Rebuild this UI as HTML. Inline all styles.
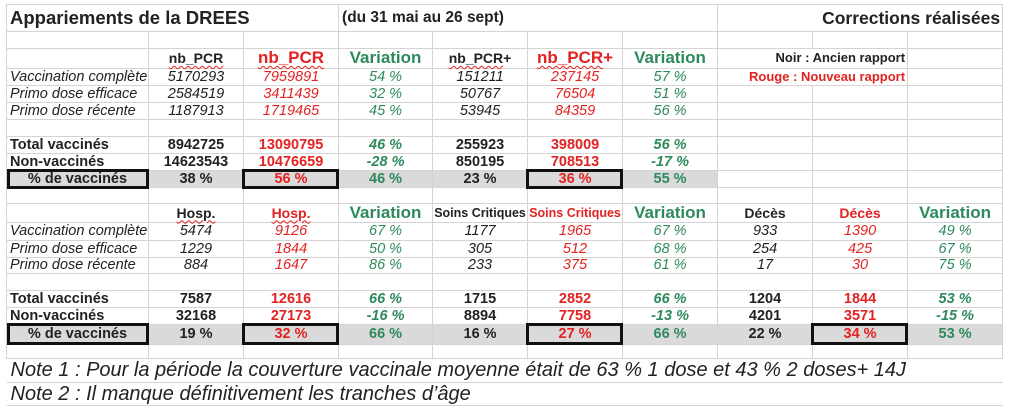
<!DOCTYPE html>
<html><head><meta charset="utf-8"><style>
body{margin:0;background:#fff;width:1022px;height:409px;overflow:hidden;position:relative;font-family:"Liberation Sans",sans-serif;}
table{position:absolute;left:6px;top:4px;border-collapse:collapse;table-layout:fixed;width:996px;}
td{border:1px solid #d4d4d4;padding:0 0 1px 0;text-align:center;font-size:14.5px;color:#222;white-space:nowrap;overflow:visible;line-height:14px;vertical-align:middle;}
td.l{text-align:left;padding-left:3px}
.i{font-style:italic}.b{font-weight:bold}
.r{color:#e32222}.g{color:#2e8a5c}
.hv{font-size:17px;font-weight:bold;color:#2e8a5c}
.hr{font-size:17px;font-weight:bold;color:#e32222}
.hb{font-size:14px;font-weight:bold}
.w{text-decoration:underline wavy #e32222 1px;text-underline-offset:2px}
.sh td{background:#dadada}
.box{position:absolute;border:3px solid #111;box-sizing:border-box;}
.note{font-size:20px;font-style:italic;text-align:left;padding-left:4px;border-left:none;border-right:none;line-height:20px}
</style></head><body>
<table>
<colgroup><col style="width:142px"><col style="width:95px"><col style="width:95px"><col style="width:94px"><col style="width:95px"><col style="width:95px"><col style="width:95px"><col style="width:95px"><col style="width:95px"><col style="width:95px"></colgroup>
<tr style="height:27px"><td colspan="3" class="l b" style="font-size:18.5px;line-height:20px">Appariements de la DREES</td><td colspan="4" class="l b" style="font-size:15.5px">(du 31 mai au 26 sept)</td><td colspan="3" class="b" style="font-size:17.5px;line-height:20px;text-align:right;padding-right:2px">Corrections réalisées</td></tr>
<tr style="height:17px"><td></td><td></td><td></td><td></td><td></td><td></td><td></td><td></td><td></td><td></td></tr>
<tr style="height:20px"><td></td><td class="hb"><span class="w">nb_PCR</span></td><td class="hr"><span class="w">nb_PCR</span></td><td class="hv">Variation</td><td class="hb"><span class="w">nb_PCR</span>+</td><td class="hr"><span class="w">nb_PCR</span>+</td><td class="hv">Variation</td><td colspan="2" class="b" style="font-size:13px;text-align:right;padding-right:2px">Noir : Ancien rapport</td><td></td></tr>
<tr style="height:17px"><td class="l i">Vaccination complète</td><td class="i">5170293</td><td class="i r">7959891</td><td class="i g">54 %</td><td class="i">151211</td><td class="i r">237145</td><td class="i g">57 %</td><td colspan="2" class="b r" style="font-size:13px;text-align:right;padding-right:2px">Rouge : Nouveau rapport</td><td></td></tr>
<tr style="height:17px"><td class="l i">Primo dose efficace</td><td class="i">2584519</td><td class="i r">3411439</td><td class="i g">32 %</td><td class="i">50767</td><td class="i r">76504</td><td class="i g">51 %</td><td></td><td></td><td></td></tr>
<tr style="height:17px"><td class="l i">Primo dose récente</td><td class="i">1187913</td><td class="i r">1719465</td><td class="i g">45 %</td><td class="i">53945</td><td class="i r">84359</td><td class="i g">56 %</td><td></td><td></td><td></td></tr>
<tr style="height:17px"><td></td><td></td><td></td><td></td><td></td><td></td><td></td><td></td><td></td><td></td></tr>
<tr style="height:17px"><td class="l b">Total vaccinés</td><td class="b">8942725</td><td class="b r">13090795</td><td class="b i g">46 %</td><td class="b">255923</td><td class="b r">398009</td><td class="b i g">56 %</td><td></td><td></td><td></td></tr>
<tr style="height:17px"><td class="l b">Non-vaccinés</td><td class="b">14623543</td><td class="b r">10476659</td><td class="b i g">-28 %</td><td class="b">850195</td><td class="b r">708513</td><td class="b i g">-17 %</td><td></td><td></td><td></td></tr>
<tr style="height:17px" class="sh"><td class="b">% de vaccinés</td><td class="b">38 %</td><td class="b r">56 %</td><td class="b g">46 %</td><td class="b">23 %</td><td class="b r">36 %</td><td class="b g">55 %</td><td style="background:#fff"></td><td style="background:#fff"></td><td style="background:#fff"></td></tr>
<tr style="height:16px"><td></td><td></td><td></td><td></td><td></td><td></td><td></td><td></td><td></td><td></td></tr>
<tr style="height:19px"><td></td><td class="hb"><span class="w">Hosp.</span></td><td class="hb r" style="font-size:14px"><span class="w">Hosp.</span></td><td class="hv">Variation</td><td class="b" style="font-size:12.5px">Soins Critiques</td><td class="b r" style="font-size:12.5px">Soins Critiques</td><td class="hv">Variation</td><td class="hb">Décès</td><td class="hb r">Décès</td><td class="hv">Variation</td></tr>
<tr style="height:18px"><td class="l i">Vaccination complète</td><td class="i">5474</td><td class="i r">9126</td><td class="i g">67 %</td><td class="i">1177</td><td class="i r">1965</td><td class="i g">67 %</td><td class="i">933</td><td class="i r">1390</td><td class="i g">49 %</td></tr>
<tr style="height:17px"><td class="l i">Primo dose efficace</td><td class="i">1229</td><td class="i r">1844</td><td class="i g">50 %</td><td class="i">305</td><td class="i r">512</td><td class="i g">68 %</td><td class="i">254</td><td class="i r">425</td><td class="i g">67 %</td></tr>
<tr style="height:16px"><td class="l i">Primo dose récente</td><td class="i">884</td><td class="i r">1647</td><td class="i g">86 %</td><td class="i">233</td><td class="i r">375</td><td class="i g">61 %</td><td class="i">17</td><td class="i r">30</td><td class="i g">75 %</td></tr>
<tr style="height:17px"><td></td><td></td><td></td><td></td><td></td><td></td><td></td><td></td><td></td><td></td></tr>
<tr style="height:17px"><td class="l b">Total vaccinés</td><td class="b">7587</td><td class="b r">12616</td><td class="b i g">66 %</td><td class="b">1715</td><td class="b r">2852</td><td class="b i g">66 %</td><td class="b">1204</td><td class="b r">1844</td><td class="b i g">53 %</td></tr>
<tr style="height:17px"><td class="l b">Non-vaccinés</td><td class="b">32168</td><td class="b r">27173</td><td class="b i g">-16 %</td><td class="b">8894</td><td class="b r">7758</td><td class="b i g">-13 %</td><td class="b">4201</td><td class="b r">3571</td><td class="b i g">-15 %</td></tr>
<tr style="height:20px" class="sh"><td class="b">% de vaccinés</td><td class="b">19 %</td><td class="b r">32 %</td><td class="b g">66 %</td><td class="b">16 %</td><td class="b r">27 %</td><td class="b g">66 %</td><td class="b">22 %</td><td class="b r">34 %</td><td class="b g">53 %</td></tr>
<tr style="height:14px"><td></td><td></td><td></td><td></td><td></td><td></td><td></td><td></td><td></td><td></td></tr>
<tr style="height:24px"><td colspan="10" class="note">Note 1 : Pour la période la couverture vaccinale moyenne était de 63 % 1 dose et 43 % 2 doses+ 14J</td></tr>
<tr style="height:23px"><td colspan="10" class="note">Note 2 : Il manque définitivement les tranches d’âge</td></tr>
</table>
<div class="box" style="left:7px;top:169px;width:142px;height:20px"></div>
<div class="box" style="left:242px;top:169px;width:97px;height:20px"></div>
<div class="box" style="left:526px;top:169px;width:97px;height:20px"></div>
<div class="box" style="left:7px;top:323px;width:142px;height:22px"></div>
<div class="box" style="left:242px;top:323px;width:97px;height:22px"></div>
<div class="box" style="left:526px;top:323px;width:97px;height:22px"></div>
<div class="box" style="left:811px;top:323px;width:97px;height:22px"></div>
</body></html>
